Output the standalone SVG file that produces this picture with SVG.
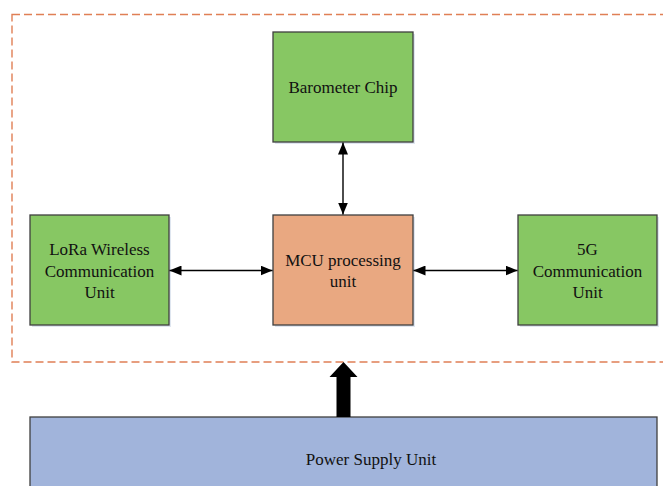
<svg xmlns="http://www.w3.org/2000/svg" width="663" height="486" viewBox="0 0 663 486">
<defs>
<style>
.box{stroke:#3f3f3f;stroke-width:1.3}
.g{fill:#87C763}
.m{fill:#E9A881}
.p{fill:#A1B4DB}
.sh{fill:#dfe6f0}
.t{font-family:"Liberation Serif","Times New Roman",serif;font-size:17px;fill:#111;text-anchor:middle}
.c{stroke:#000;stroke-width:1.4;fill:none;marker-start:url(#a);marker-end:url(#a)}
</style>
<marker id="a" viewBox="0 0 10 10" refX="10" refY="5" markerWidth="12" markerHeight="10" markerUnits="userSpaceOnUse" orient="auto-start-reverse" preserveAspectRatio="none">
<path d="M0,0 L10,5 L0,10 z" fill="#000"/>
</marker>
</defs>
<rect width="663" height="486" fill="#fff"/>
<rect x="12" y="14.5" width="670" height="347.5" fill="none" stroke="#E07F55" stroke-width="1.4" stroke-dasharray="8,4"/>
<g id="barometer">
<rect class="sh" x="275" y="34" width="140" height="110"/>
<rect class="box g" x="273" y="32" width="140" height="110"/>
<text class="t" x="343" y="93">Barometer Chip</text>
</g>
<g id="lora">
<rect class="sh" x="32" y="217" width="139" height="110"/>
<rect class="box g" x="30" y="215" width="139" height="110"/>
<text class="t" x="99.5" y="255">LoRa Wireless</text>
<text class="t" x="99.5" y="277">Communication</text>
<text class="t" x="99.5" y="298">Unit</text>
</g>
<g id="mcu">
<rect class="sh" x="275" y="217" width="140" height="110"/>
<rect class="box m" x="273" y="215" width="140" height="110"/>
<text class="t" x="343" y="266">MCU processing</text>
<text class="t" x="343" y="287">unit</text>
</g>
<g id="fiveg">
<rect class="sh" x="520" y="217" width="139" height="110"/>
<rect class="box g" x="518" y="215" width="139" height="110"/>
<text class="t" x="587.5" y="255">5G</text>
<text class="t" x="587.5" y="277">Communication</text>
<text class="t" x="587.5" y="298">Unit</text>
</g>
<g id="power">
<rect class="box p" x="30" y="417" width="627" height="80"/>
<text class="t" x="371" y="465">Power Supply Unit</text>
</g>
<g id="connectors">
<line class="c" x1="343" y1="142.5" x2="343" y2="214.5"/>
<line class="c" x1="169.5" y1="270.5" x2="272.5" y2="270.5"/>
<line class="c" x1="413.5" y1="270.5" x2="517.5" y2="270.5"/>
<path d="M336.5,417 L336.5,377 L329.5,377 L343.5,362 L357.5,377 L350.5,377 L350.5,417 z" fill="#000"/>
</g>
</svg>
